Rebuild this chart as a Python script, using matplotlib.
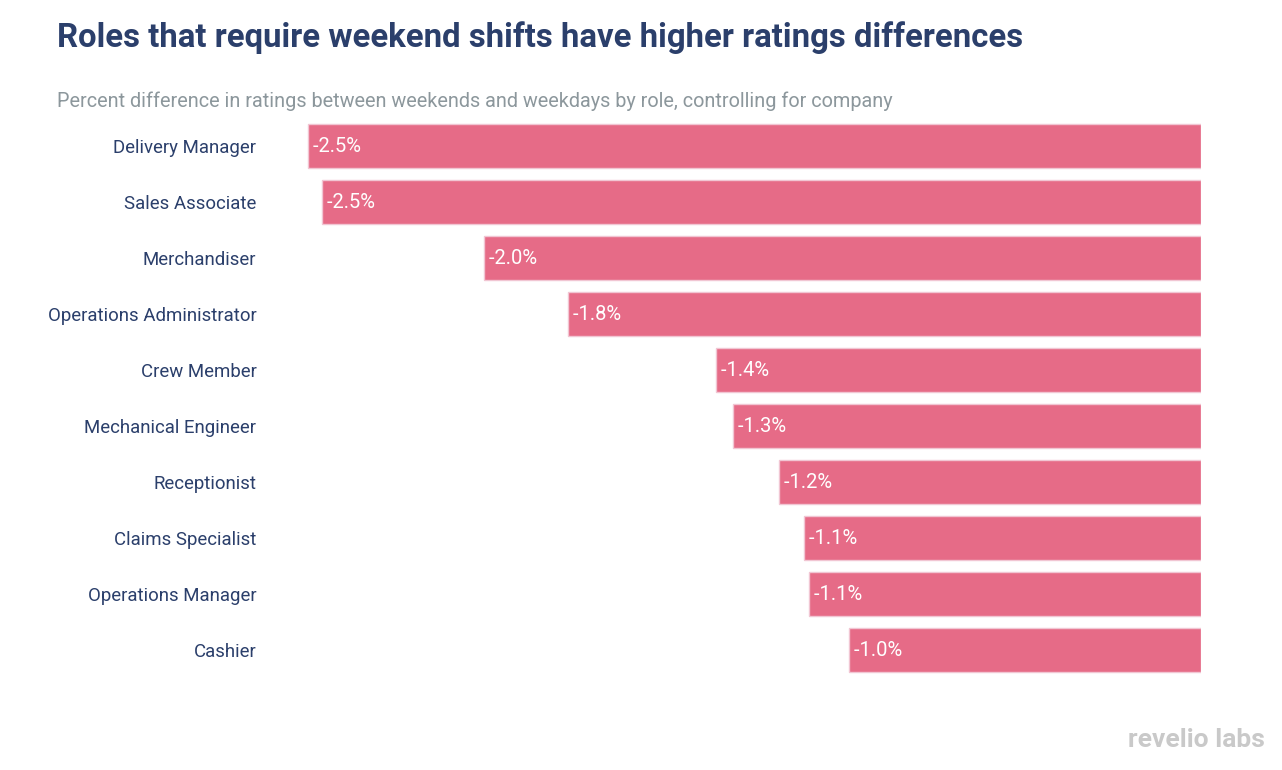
import matplotlib
matplotlib.use("Agg")
import matplotlib.pyplot as plt

roles = [
    "Delivery Manager",
    "Sales Associate",
    "Merchandiser",
    "Operations Administrator",
    "Crew Member",
    "Mechanical Engineer",
    "Receptionist",
    "Claims Specialist",
    "Operations Manager",
    "Cashier",
]
diffs = [-2.54, -2.50, -2.04, -1.80, -1.38, -1.33, -1.20, -1.13, -1.115, -1.00]

plt.rcParams["font.family"] = ["Roboto", "DejaVu Sans"]

W, H = 1282, 770
fig = plt.figure(figsize=(W / 100, H / 100), dpi=100)

# axes placed in pixel terms: 0 at x=1201, rows from y=118 to y=678
x0, x1 = 287, 1201
y_top, y_bot = 118, 678
ax = fig.add_axes([x0 / W, 1 - y_bot / H, (x1 - x0) / W, (y_bot - y_top) / H])

bar_color = "#E66B87"
navy = "#2B3F6B"
ypos = list(range(len(roles)))
ax.barh(ypos, diffs, height=0.77, color=bar_color, edgecolor="#F1C6D3", linewidth=1)

for y, v in zip(ypos, diffs):
    ax.text(v, y, f" {v:.1f}%", color="white", fontsize=14.5, va="center", ha="left")

ax.set_xlim(-2.6, 0)
ax.set_ylim(len(roles) - 0.5, -0.5)
ax.set_yticks(ypos)
ax.set_yticklabels(roles, fontsize=13.4, color=navy)
ax.tick_params(axis="y", length=0, pad=22)
ax.set_xticks([])
for s in ax.spines.values():
    s.set_visible(False)

fig.text(57 / W, 1 - 38 / H, "Roles that require weekend shifts have higher ratings differences",
         fontsize=23.7, fontweight="bold", color=navy, va="center", ha="left")
fig.text(57 / W, 1 - 101 / H, "Percent difference in ratings between weekends and weekdays by role, controlling for company",
         fontsize=14.35, color="#8C979C", va="center", ha="left")
fig.text(1265 / W, 1 - 740 / H, "revelio labs", fontsize=19, fontweight="bold",
         color="#C9C9C9", va="center", ha="right")

fig.savefig("out.png", dpi=100)
